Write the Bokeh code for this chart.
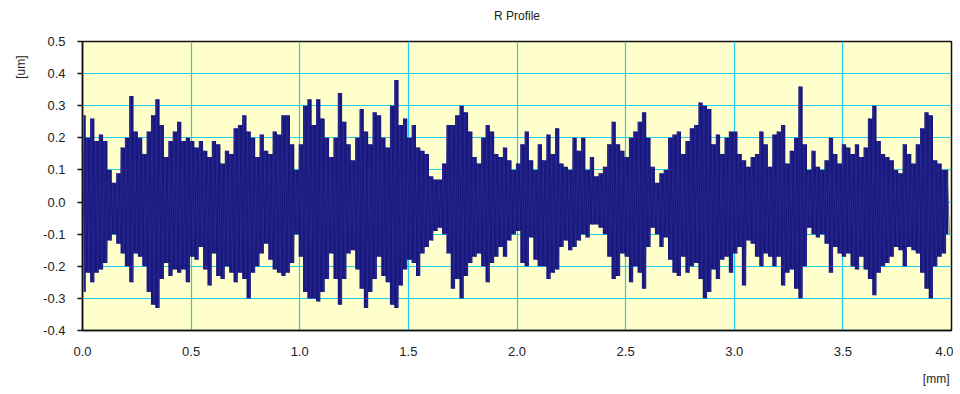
import math
from bokeh.plotting import figure
from bokeh.models import Range1d, SingleIntervalTicker, NumeralTickFormatter, Title
from bokeh.embed import file_html
from bokeh.resources import INLINE

# Sampling step of the envelope readings [mm]
step = 0.02

# Upper peaks of the R profile [um], every 0.02 mm from 0.00 to 3.98 mm
upper = [
    0.27, 0.20, 0.26, 0.19, 0.21, 0.19, 0.10, 0.06, 0.09, 0.17,
    0.20, 0.33, 0.22, 0.20, 0.15, 0.22, 0.27, 0.32, 0.24, 0.14,
    0.19, 0.22, 0.25, 0.19, 0.20, 0.19, 0.17, 0.19, 0.16, 0.14,
    0.19, 0.18, 0.12, 0.16, 0.15,
    0.23, 0.24, 0.27, 0.22, 0.20, 0.14, 0.21, 0.16, 0.15, 0.22,
    0.21, 0.27, 0.27, 0.18, 0.10, 0.18, 0.30, 0.32, 0.24, 0.32,
    0.26, 0.20, 0.14, 0.20, 0.34, 0.25, 0.18, 0.13, 0.20, 0.29,
    0.22, 0.18, 0.28,
    0.27, 0.20, 0.17, 0.30, 0.38, 0.24, 0.26, 0.20, 0.24, 0.17,
    0.16, 0.15, 0.08, 0.07, 0.07, 0.12, 0.24, 0.24, 0.27, 0.30,
    0.28, 0.22, 0.14, 0.12, 0.20, 0.24, 0.22, 0.15, 0.14, 0.17,
    0.13, 0.10, 0.12,
    0.18, 0.22, 0.13, 0.10, 0.18, 0.13, 0.21, 0.15, 0.23, 0.12,
    0.11, 0.10, 0.20, 0.16, 0.20, 0.10, 0.14, 0.08, 0.09, 0.11,
    0.18, 0.25, 0.18, 0.16, 0.14, 0.20, 0.22, 0.25, 0.28, 0.20,
    0.11, 0.06, 0.09,
    0.10, 0.20, 0.21, 0.22, 0.15, 0.19, 0.23, 0.24, 0.31, 0.30,
    0.29, 0.18, 0.21, 0.15, 0.20, 0.22, 0.22, 0.15, 0.13, 0.11,
    0.14, 0.15, 0.22, 0.18, 0.11, 0.21, 0.22, 0.24, 0.12, 0.16,
    0.20, 0.36, 0.18, 0.10,
    0.16, 0.11, 0.10, 0.13, 0.20, 0.15, 0.12, 0.18, 0.17, 0.15,
    0.18, 0.14, 0.17, 0.26, 0.30, 0.19, 0.15, 0.14, 0.13, 0.10,
    0.09, 0.18, 0.15, 0.12, 0.18, 0.23, 0.28, 0.27, 0.13, 0.12,
    0.10, 0.10,
]

# Lower peaks of the R profile [um], every 0.02 mm from 0.01 to 3.99 mm
lower = [
    -0.28, -0.22, -0.25, -0.22, -0.21, -0.19, -0.12, -0.10, -0.13, -0.16,
    -0.20, -0.25, -0.16, -0.17, -0.20, -0.28, -0.32, -0.33, -0.24, -0.19,
    -0.23, -0.21, -0.22, -0.21, -0.25, -0.17, -0.18, -0.14, -0.21, -0.26,
    -0.16, -0.23, -0.24, -0.20, -0.22,
    -0.25, -0.22, -0.24, -0.30, -0.22, -0.20, -0.16, -0.13, -0.18, -0.21,
    -0.22, -0.23, -0.22, -0.19, -0.10, -0.17, -0.28, -0.30, -0.30, -0.31,
    -0.28, -0.24, -0.16, -0.24, -0.32, -0.24, -0.16, -0.15, -0.21, -0.27,
    -0.33, -0.28, -0.24,
    -0.17, -0.23, -0.25, -0.32, -0.33, -0.26, -0.21, -0.18, -0.19, -0.23,
    -0.16, -0.14, -0.12, -0.09, -0.08, -0.10, -0.16, -0.27, -0.24, -0.30,
    -0.23, -0.19, -0.17, -0.16, -0.20, -0.25, -0.19, -0.17, -0.14, -0.17,
    -0.12, -0.10, -0.09,
    -0.19, -0.20, -0.11, -0.18, -0.20, -0.20, -0.24, -0.22, -0.21, -0.14,
    -0.12, -0.15, -0.14, -0.12, -0.10, -0.11, -0.07, -0.07, -0.08, -0.10,
    -0.17, -0.24, -0.23, -0.16, -0.17, -0.25, -0.20, -0.22, -0.27, -0.14,
    -0.08, -0.10, -0.14,
    -0.11, -0.18, -0.22, -0.23, -0.17, -0.22, -0.20, -0.19, -0.24, -0.30,
    -0.28, -0.21, -0.24, -0.18, -0.17, -0.22, -0.16, -0.14, -0.26, -0.12,
    -0.13, -0.17, -0.20, -0.16, -0.17, -0.20, -0.17, -0.26, -0.22, -0.21,
    -0.27, -0.30, -0.20, -0.08,
    -0.10, -0.11, -0.10, -0.13, -0.22, -0.14, -0.16, -0.17, -0.16, -0.20,
    -0.21, -0.17, -0.21, -0.24, -0.29, -0.22, -0.20, -0.19, -0.17, -0.14,
    -0.15, -0.20, -0.14, -0.15, -0.16, -0.22, -0.27, -0.30, -0.20, -0.17,
    -0.16, -0.10,
]

title_text = "R Profile"
x_label = "[mm]"
y_label = "[um]"

# column centres of each upper/lower pair, and the zig-zag trace
xc = [i * step + step / 4 for i in range(len(upper))]
xs, ys = [], []
for i, (u, l) in enumerate(zip(upper, lower)):
    xs += [i * step, i * step + step / 2]
    ys += [u, l]

FONT = "Liberation Sans"
TXT = "#222222"
NAVY = "#18187e"

p = figure(width=953, height=392, output_backend="svg", toolbar_location=None,
           x_range=Range1d(0, 4.0), y_range=Range1d(-0.4, 0.5))
p.min_border_left = 82
p.min_border_right = 2
p.min_border_top = 41
p.min_border_bottom = 60

p.add_layout(Title(text=title_text, align="center", vertical_align="top",
                   text_font=FONT, text_font_size="12px",
                   text_font_style="normal", text_color=TXT, standoff=10,
                   padding=dict(left=0, right=0, top=0, bottom=12)), "above")
p.add_layout(Title(text=y_label, align="right", vertical_align="top",
                   text_font=FONT, text_font_size="12px",
                   text_font_style="normal", text_color=TXT,
                   standoff=22, offset=14), "left")
p.add_layout(Title(text=x_label, align="right", vertical_align="top",
                   text_font=FONT, text_font_size="12px",
                   text_font_style="normal", text_color=TXT, standoff=10,
                   offset=2, padding=dict(left=0, right=0, top=8, bottom=0)),
             "below")

p.background_fill_color = "#FFFFCC"
p.border_fill_color = "white"
p.outline_line_color = "#111111"
p.outline_line_width = 1.5

p.varea_step(x=xc, y1=lower, y2=upper, step_mode="center", fill_color=NAVY)
p.line(xs, ys, line_color="#2c2c92", line_width=1, line_alpha=0.7)

p.xaxis.ticker = SingleIntervalTicker(interval=0.5)
p.yaxis.ticker = SingleIntervalTicker(interval=0.1)
p.xaxis.formatter = NumeralTickFormatter(format="0.0")
p.yaxis.formatter = NumeralTickFormatter(format="0.0")

for ax in (p.xaxis, p.yaxis):
    ax.axis_line_color = "#111111"
    ax.axis_line_width = 1.5
    ax.major_label_text_font = FONT
    ax.major_label_text_font_size = "13px"
    ax.major_label_text_color = TXT
    ax.minor_tick_line_color = None
    ax.major_tick_line_color = "#111111"
    ax.major_tick_line_width = 1.5

p.xaxis.major_tick_out = 0
p.xaxis.major_tick_in = 0
p.xaxis.major_label_standoff = 12
p.yaxis.major_tick_out = 5
p.yaxis.major_tick_in = 0
p.yaxis.major_label_standoff = 12

for g in (p.xgrid, p.ygrid):
    g.grid_line_color = "#22CCEE"
    g.grid_line_width = 1.2

open("out.html", "w").write(file_html(p, INLINE))
